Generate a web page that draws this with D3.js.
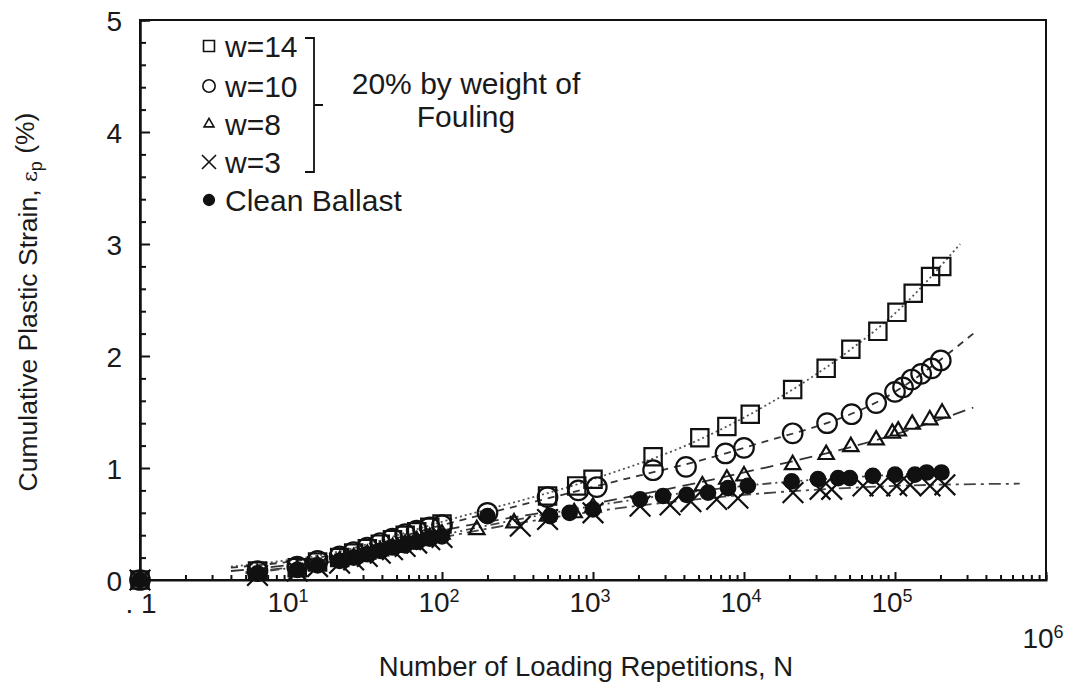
<!DOCTYPE html>
<html>
<head>
<meta charset="utf-8">
<script src="https://cdn.jsdelivr.net/npm/d3@7"></script>
<style>
  body { margin: 0; background: #fff; }
  text { font-family: "Liberation Sans", Arial, sans-serif; fill: #1a1a1a; }
</style>
</head>
<body>
<div id="chart"></div>
<script>
// Cumulative plastic strain vs number of loading repetitions
const w14 = [[1,0],[6,0.08],[11,0.11],[15,0.16],[21,0.2],[26,0.24],[32,0.28],[39,0.32],[47,0.36],[57,0.4],[68,0.43],[83,0.47],[100,0.5],
  [500,0.75],[780,0.84],[1000,0.9],[2500,1.1],[5100,1.27],[7700,1.37],[11000,1.48],[21000,1.7],[35000,1.89],[51000,2.06],
  [77000,2.22],[103000,2.39],[132000,2.56],[172000,2.71],[204000,2.8]];
const w10 = [[1,0],[6,0.08],[11,0.12],[15,0.17],[21,0.21],[26,0.25],[32,0.29],[39,0.33],[47,0.37],[57,0.41],[68,0.44],[83,0.47],[100,0.49],
  [200,0.6],[500,0.74],[800,0.8],[1060,0.83],[2500,0.98],[4130,1.01],[7540,1.13],[10000,1.18],[21000,1.31],[35500,1.4],
  [51600,1.48],[75000,1.58],[100000,1.68],[113000,1.72],[129000,1.79],[149000,1.84],[175000,1.89],[201000,1.96]];
const w8 = [[1,0],[6,0.05],[11,0.09],[15,0.13],[21,0.17],[26,0.2],[32,0.23],[39,0.26],[47,0.29],[57,0.32],[68,0.35],[83,0.38],[100,0.41],
  [170,0.45],[300,0.51],[500,0.57],[750,0.6],[1000,0.65],[5300,0.84],[7700,0.9],[10000,0.93],[21000,1.03],[35000,1.12],
  [51000,1.19],[75000,1.25],[96000,1.31],[105000,1.33],[130000,1.39],[170000,1.43],[205000,1.49]];
const w3 = [[1,0],[6,0.04],[11,0.08],[15,0.12],[21,0.15],[26,0.18],[32,0.21],[39,0.24],[47,0.27],[57,0.3],[68,0.33],[83,0.36],[100,0.38],
  [330,0.48],[500,0.54],[1000,0.6],[2050,0.66],[3240,0.67],[4450,0.7],[6590,0.72],[9120,0.73],[21100,0.78],[31900,0.81],
  [38100,0.81],[61400,0.84],[79500,0.84],[102600,0.84],[126000,0.85],[170500,0.84],[214000,0.85]];
const clean = [[1,0],[6,0.06],[11,0.09],[15,0.13],[21,0.17],[26,0.2],[32,0.23],[39,0.26],[47,0.29],[57,0.31],[68,0.34],[83,0.37],[100,0.39],
  [200,0.57],[520,0.57],[700,0.6],[1000,0.63],[2050,0.72],[2910,0.75],[4170,0.76],[5780,0.78],[7840,0.82],[10600,0.84],
  [20700,0.88],[30900,0.9],[42000,0.91],[50200,0.91],[71400,0.93],[100000,0.94],[135500,0.94],[162000,0.96],[203000,0.96]];

// fitted trend lines
const fitW14 = [[4,0.12],[20,0.25],[100,0.52],[1000,0.9],[5000,1.25],[10000,1.45],[50000,2.05],[100000,2.38],[270000,3.0]];
const fitW10 = [[4,0.11],[20,0.23],[100,0.49],[1000,0.83],[10000,1.18],[100000,1.68],[330000,2.2]];
const fitW8  = [[4,0.08],[20,0.2],[100,0.44],[1000,0.68],[10000,0.96],[100000,1.3],[330000,1.54]];
const fitW3  = [[5,0.07],[20,0.17],[100,0.38],[1000,0.61],[10000,0.76],[100000,0.84],[670000,0.86]];
const fitClean = [[5,0.06],[20,0.17],[100,0.4],[1000,0.66],[10000,0.84],[100000,0.94],[210000,0.96]];

const yTickLabels = ["0", "1", "2", "3", "4", "5"];
const xDecades = [1, 2, 3, 4, 5, 6];
const legendLabels = ["w=14", "w=10", "w=8", "w=3", "Clean Ballast"];
const groupNote = ["20% by weight of", "Fouling"];

function createChart() {
    const margin = { top: 20, right: 30, bottom: 107, left: 140 };
    const width = 1076 - margin.left - margin.right;
    const height = 687 - margin.top - margin.bottom;

    const svg = d3.select("#chart").append("svg")
        .attr("width", 1076)
        .attr("height", 687);

    const g = svg.append("g")
        .attr("transform", `translate(${margin.left},${margin.top})`);

    const xScale = d3.scaleLog().domain([1, 1e6]).range([0, width]);
    const yScale = d3.scaleLinear().domain([0, 5]).range([height, 0]);

    // axes: ticks point inward
    const minorX = xScale.ticks().filter(v => Math.abs(Math.log10(v) % 1) > 1e-6);
    const majorX = xDecades.map(k => Math.pow(10, k));

    g.append("g")
        .attr("transform", `translate(0,${height})`)
        .call(d3.axisBottom(xScale).tickValues(minorX).tickSize(-5).tickFormat(""));
    g.append("g")
        .attr("transform", `translate(0,${height})`)
        .call(d3.axisBottom(xScale).tickValues(majorX).tickSize(-8).tickFormat(""))
        .select(".domain").remove();

    const yMinor = d3.range(0, 5.001, 0.2).filter(v => Math.abs(v - Math.round(v)) > 1e-6);
    g.append("g")
        .call(d3.axisLeft(yScale).tickValues(yMinor).tickSize(-6).tickFormat(""));
    const yAxis = g.append("g")
        .call(d3.axisLeft(yScale).tickValues(yTickLabels.map(Number)).tickSize(-10).tickPadding(18)
            .tickFormat((d, i) => yTickLabels[i]));
    yAxis.selectAll("text").style("font-size", "28px").attr("dy", "0.36em");

    g.selectAll(".domain, .tick line").attr("stroke", "#111").attr("stroke-width", 2);

    // frame
    g.append("rect")
        .attr("width", width).attr("height", height)
        .attr("fill", "none").attr("stroke", "#111").attr("stroke-width", 2);

    // x tick labels with superscripts
    g.append("text")
        .attr("x", xScale(1) + 1).attr("y", height + 33)
        .attr("text-anchor", "middle")
        .style("font-size", "28px")
        .text(". 1");

    xDecades.forEach(k => {
        const t = g.append("text")
            .attr("x", xScale(Math.pow(10, k)) - 3)
            .attr("y", height + (k === 6 ? 68 : 32))
            .attr("text-anchor", "middle")
            .style("font-size", "28px");
        t.append("tspan").text("10");
        t.append("tspan").attr("dy", "-0.55em").style("font-size", "18px").text(k);
    });

    // axis titles
    svg.append("text")
        .attr("x", 586).attr("y", 676)
        .attr("text-anchor", "middle")
        .style("font-size", "27.5px")
        .text("Number of Loading Repetitions, N");

    const yTitle = svg.append("text")
        .attr("transform", "translate(37,302) rotate(-90)")
        .attr("text-anchor", "middle")
        .style("font-size", "26.5px");
    yTitle.append("tspan").text("Cumulative Plastic Strain, ");
    yTitle.append("tspan").style("font-family", "DejaVu Serif").style("font-size", "21px").text("ε");
    yTitle.append("tspan").attr("dy", "0.3em").style("font-size", "18px").text("p");
    yTitle.append("tspan").attr("dy", "-0.3em").text(" (%)");

    // trend lines
    const line = d3.line()
        .x(d => xScale(d[0]))
        .y(d => yScale(d[1]))
        .curve(d3.curveMonotoneX);

    const fits = [
        { data: fitW14, dash: "2,3", color: "#555" },
        { data: fitW10, dash: "7,6", color: "#333" },
        { data: fitW8, dash: "13,7", color: "#333" },
        { data: fitW3, dash: "12,5,3,5", color: "#444" },
        { data: fitClean, dash: "9,4,2,4,2,4", color: "#444" }
    ];
    fits.forEach(f => {
        g.append("path")
            .datum(f.data)
            .attr("d", line)
            .style("fill", "none")
            .style("stroke", f.color)
            .style("stroke-width", 1.8)
            .style("stroke-dasharray", f.dash);
    });

    // markers
    const series = [
        { name: legendLabels[0], data: w14, type: d3.symbolSquare, size: 300, fill: "none" },
        { name: legendLabels[1], data: w10, type: d3.symbolCircle, size: 300, fill: "none" },
        { name: legendLabels[2], data: w8, type: d3.symbolTriangle2, size: 170, fill: "none" },
        { name: legendLabels[3], data: w3, type: d3.symbolTimes, size: 280, fill: "none" },
        { name: legendLabels[4], data: clean, type: d3.symbolCircle, size: 165, fill: "#111" }
    ];

    series.slice().reverse().forEach(s => {
        const sym = d3.symbol().type(s.type).size(s.size);
        g.selectAll(null)
            .data(s.data)
            .enter().append("path")
            .attr("d", sym)
            .attr("transform", d => `translate(${xScale(d[0])},${yScale(d[1])})`)
            .style("fill", s.fill)
            .style("stroke", "#111")
            .style("stroke-width", 2.2);
    });

    // legend
    const legend = svg.append("g");
    const rowY = [46, 86, 124, 162, 200];
    const legendSizes = [120, 120, 70, 130, 90];
    series.forEach((s, i) => {
        const row = legend.append("g").attr("transform", `translate(209,${rowY[i]})`);
        row.append("path")
            .attr("d", d3.symbol().type(s.type).size(legendSizes[i]))
            .style("fill", s.fill)
            .style("stroke", "#111")
            .style("stroke-width", 1.6);
        row.append("text")
            .attr("x", 16).attr("dy", "0.36em")
            .style("font-size", "30px")
            .text(s.name);
    });

    legend.append("path")
        .attr("d", "M305,38H314V172H305M314,105H323")
        .attr("fill", "none").attr("stroke", "#111").attr("stroke-width", 1.8);

    groupNote.forEach((t, i) => {
        legend.append("text")
            .attr("x", 466).attr("y", 94 + i * 33)
            .attr("text-anchor", "middle")
            .style("font-size", "30px")
            .text(t);
    });
}

createChart();
</script>
</body>
</html>
